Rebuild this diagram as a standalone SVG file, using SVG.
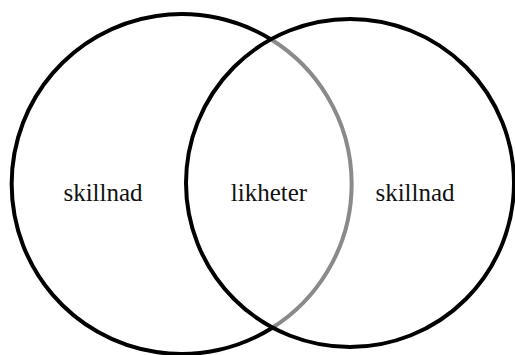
<svg xmlns="http://www.w3.org/2000/svg" width="515" height="355" viewBox="0 0 515 355">
<style>
.c{fill:none;stroke:#000;stroke-width:4}
.g{fill:none;stroke:#8a8a8a;stroke-width:4}
.t{font-family:"Liberation Serif",serif;font-size:25px;fill:#111;text-anchor:middle}
</style>
<rect width="515" height="355" fill="#fff"/>
<g id="left">
<path class="c" d="M272,40 A170,170 0 1 0 272,328"/>
<path class="g" d="M272,40 A170,170 0 0 1 272,328"/>
<text class="t" x="103" y="201">skillnad</text>
</g>
<g id="right">
<circle class="c" cx="350" cy="183" r="164"/>
<text class="t" x="415" y="201">skillnad</text>
</g>
<g id="middle">
<text class="t" x="269" y="201">likheter</text>
</g>
</svg>
